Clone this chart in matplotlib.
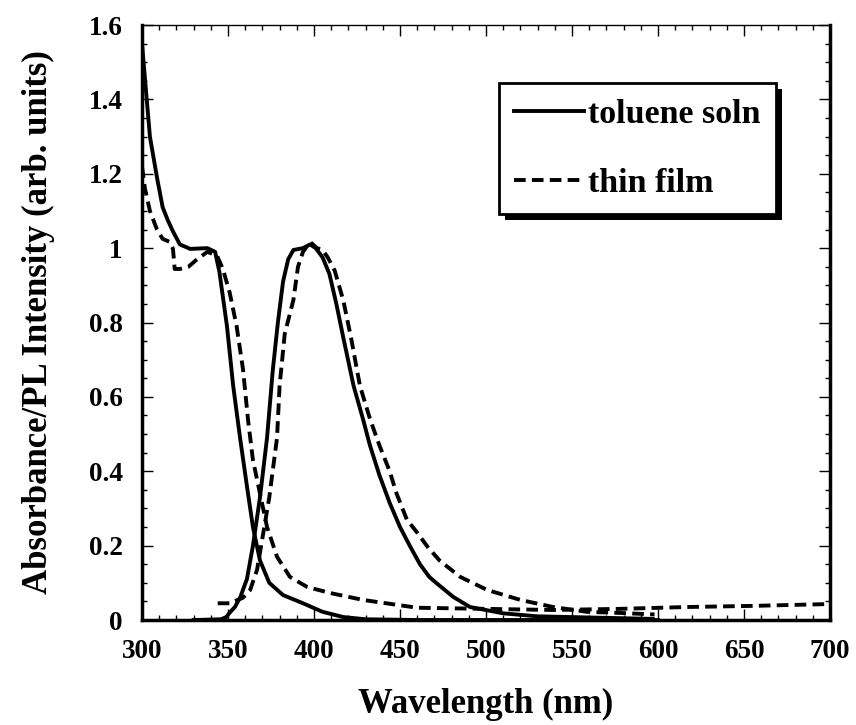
import matplotlib.pyplot as plt
from matplotlib.ticker import MultipleLocator, FuncFormatter
import matplotlib.patheffects as pe

plt.rcParams['font.family'] = ['Liberation Serif', 'DejaVu Serif']
plt.rcParams['font.weight'] = 'bold'

# toluene solution absorbance (solid)
sol_abs_x = [300, 302, 304.6, 308.7, 312, 315, 318, 322, 328, 338, 342.5, 345, 349.4,
             353, 357, 361, 364.5, 368.6, 374, 382, 393.6, 405, 417, 430, 460, 520, 600]
sol_abs_y = [1.55, 1.44, 1.30, 1.19, 1.11, 1.075, 1.045, 1.01, 0.998, 1.00, 0.99, 0.936, 0.79,
             0.63, 0.49, 0.36, 0.25, 0.16, 0.10, 0.067, 0.045, 0.022, 0.008, 0.002, 0.0, 0.0, 0.0]

# toluene solution PL (solid)
sol_pl_x = [330, 346, 349, 351, 354, 357, 361, 364.5, 368.6, 372.7, 376, 379, 382, 385, 388,
            393.6, 397.7, 401, 405, 409, 413, 417, 423, 428.5, 432.5, 438, 444, 450, 456,
            461.6, 467, 471, 481, 490.7, 510, 529.6, 558, 597]
sol_pl_y = [0.0, 0.002, 0.008, 0.02, 0.035, 0.06, 0.11, 0.20, 0.33, 0.49, 0.67, 0.80, 0.91,
            0.97, 0.995, 1.0, 1.01, 1.0, 0.975, 0.93, 0.85, 0.76, 0.63, 0.54, 0.47, 0.39,
            0.315, 0.25, 0.197, 0.15, 0.116, 0.10, 0.062, 0.035, 0.018, 0.01, 0.007, 0.003]

# thin film absorbance (dashed)
film_abs_x = [300, 301.7, 304.6, 308.7, 312, 316, 318, 319, 322, 327, 332, 338, 343.6,
              347, 351, 355, 358.7, 361.6, 364.5, 368.6, 372.7, 378.5, 386, 396, 409,
              428.5, 460, 500, 539, 578, 617, 655, 700]
film_abs_y = [1.22, 1.16, 1.10, 1.05, 1.025, 1.017, 0.998, 0.944, 0.944, 0.95, 0.97, 0.99, 0.98,
              0.944, 0.88, 0.79, 0.675, 0.54, 0.43, 0.34, 0.25, 0.17, 0.116, 0.089, 0.073,
              0.054, 0.033, 0.03, 0.027, 0.03, 0.035, 0.038, 0.043]

# thin film PL (dashed)
film_pl_x = [344, 351, 358.7, 362.8, 366.9, 370, 374, 378.5, 380, 383, 388, 390.7, 393.6,
             397.7, 401.7, 405, 408, 412, 417, 421.5, 426.7, 432.6, 438, 444, 448, 454, 460,
             466, 473, 485, 500.6, 520, 539, 558.7, 578, 598]
film_pl_y = [0.045, 0.045, 0.06, 0.08, 0.135, 0.22, 0.33, 0.49, 0.63, 0.77, 0.86, 0.95, 0.99,
             1.017, 1.0, 0.995, 0.975, 0.94, 0.86, 0.76, 0.63, 0.54, 0.47, 0.40, 0.34, 0.27,
             0.235, 0.197, 0.16, 0.116, 0.081, 0.054, 0.035, 0.022, 0.019, 0.015]

x_ticks = [300, 350, 400, 450, 500, 550, 600, 650, 700]
y_ticks = [0, 0.2, 0.4, 0.6, 0.8, 1.0, 1.2, 1.4, 1.6]

fig = plt.figure(figsize=(8.56, 7.25), dpi=100)
ax = fig.add_axes([0.1659, 0.1448, 0.8037, 0.8207])

lw = 2.8
dash = (0, (3.0, 1.6))
ax.plot(sol_abs_x, sol_abs_y, color='black', lw=lw, label='toluene soln')
ax.plot(sol_pl_x, sol_pl_y, color='black', lw=lw)
ax.plot(film_abs_x, film_abs_y, color='black', lw=lw, linestyle=dash, label='thin film')
ax.plot(film_pl_x, film_pl_y, color='black', lw=lw, linestyle=dash)

ax.set_xlim(300, 700)
ax.set_ylim(0, 1.6)
ax.set_xticks(x_ticks)
ax.set_yticks(y_ticks)
ax.xaxis.set_minor_locator(MultipleLocator(10))
ax.yaxis.set_minor_locator(MultipleLocator(0.05))
ax.yaxis.set_major_formatter(FuncFormatter(lambda v, p: ('%g' % round(v, 2))))

ax.tick_params(which='both', direction='in', top=True, right=True, width=1, colors='black')
ax.tick_params(which='major', length=8, labelsize=19.5)
ax.tick_params(which='minor', length=3.5)
ax.tick_params(axis='y', which='major', pad=14)
ax.tick_params(axis='x', which='major', pad=14)

for s in ['left', 'bottom', 'right']:
    ax.spines[s].set_linewidth(2.5)
ax.spines['top'].set_linewidth(1)

ax.set_xlabel('Wavelength (nm)', fontsize=25, fontweight='bold', labelpad=17)
ax.set_ylabel('Absorbance/PL Intensity (arb. units)', fontsize=25, fontweight='bold', labelpad=24)

leg = ax.legend(loc='upper left', bbox_to_anchor=(0.519, 0.902), fontsize=24.5,
                frameon=True, fancybox=False, framealpha=1, facecolor='white',
                handlelength=2.05, handletextpad=0.12, labelspacing=1.12,
                borderpad=0.45, borderaxespad=0)
frame = leg.get_frame()
frame.set_edgecolor('black')
frame.set_linewidth(2)
frame.set_path_effects([pe.SimplePatchShadow(offset=(4, -4), shadow_rgbFace='black', alpha=1),
                        pe.Normal()])
for t in leg.get_texts():
    t.set_fontweight('bold')

fig.savefig('out.png', dpi=100)
